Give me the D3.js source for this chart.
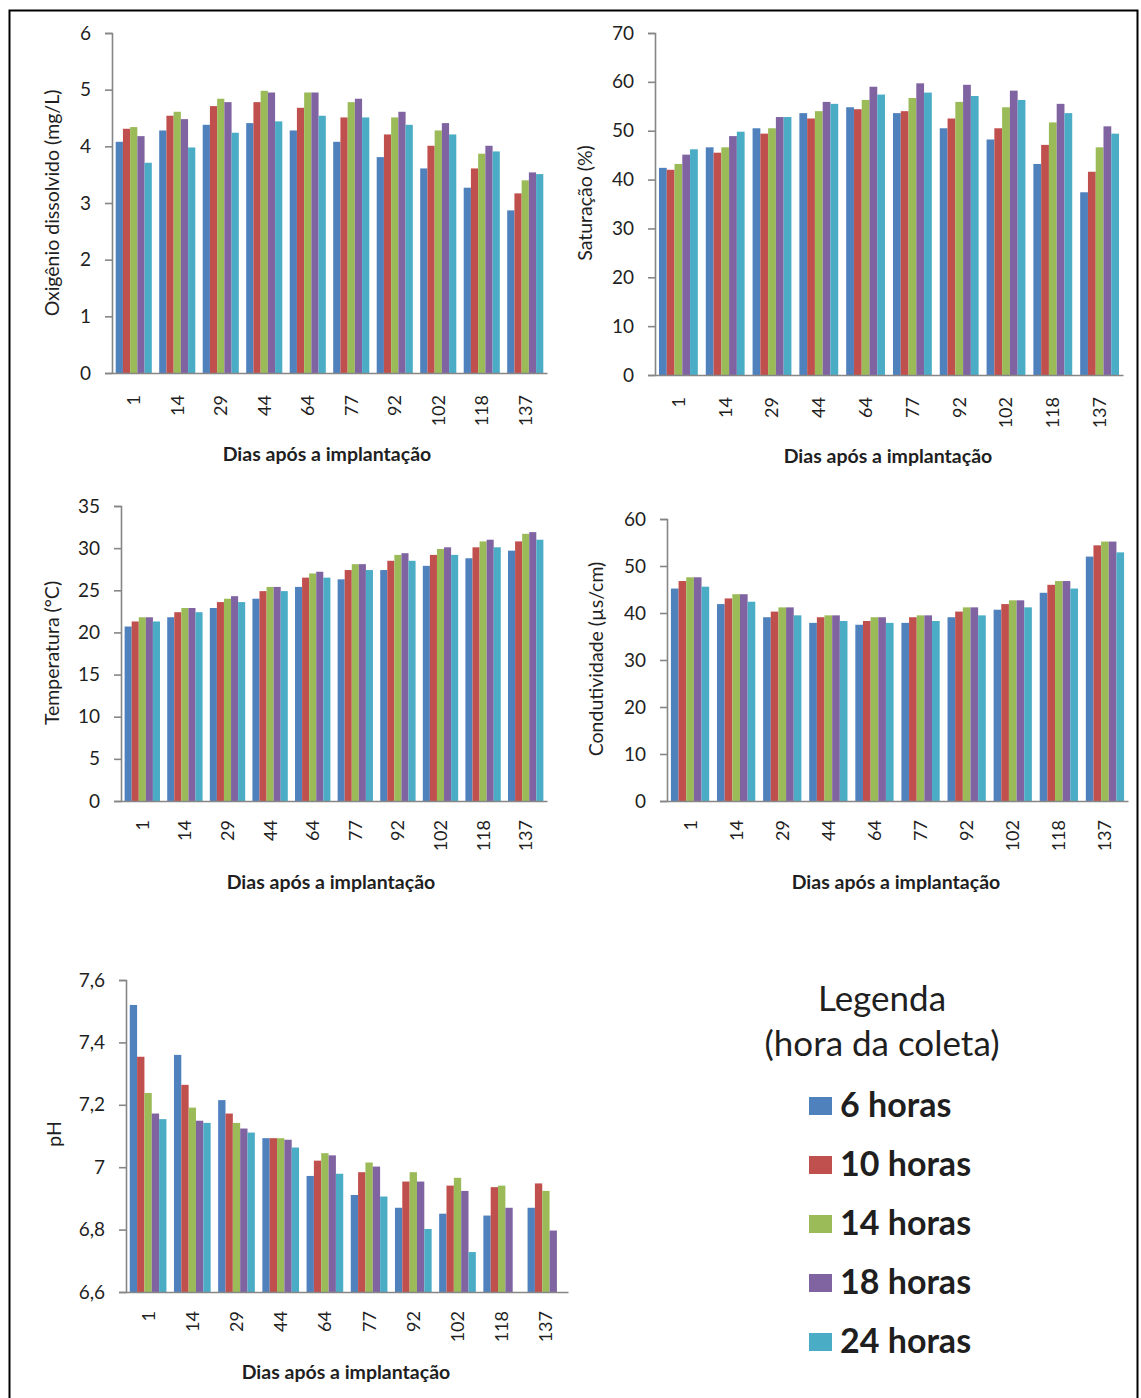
<!DOCTYPE html>
<html>
<head>
<meta charset="utf-8">
<script src="https://cdn.jsdelivr.net/npm/d3@7"></script>
<style>
  html, body { margin: 0; padding: 0; background: #fff; }
  svg { display: block; }
  text { font-family: Lato, "Open Sans", sans-serif; fill: #1f1f1f; }
</style>
</head>
<body>
<svg id="chart" width="1141" height="1398"></svg>
<script>
// ---------- data ----------
const days = ["1", "14", "29", "44", "64", "77", "92", "102", "118", "137"];
const seriesNames = ["6 horas", "10 horas", "14 horas", "18 horas", "24 horas"];
const seriesColors = ["#4F81BD", "#C0504D", "#9BBB59", "#8064A2", "#4BACC6"];

// each row = one series (6h, 10h, 14h, 18h, 24h), columns = days
const oxigenio = [
  [4.08, 4.28, 4.38, 4.41, 4.28, 4.08, 3.81, 3.61, 3.27, 2.87],
  [4.31, 4.54, 4.71, 4.78, 4.68, 4.51, 4.21, 4.01, 3.61, 3.17],
  [4.34, 4.61, 4.84, 4.98, 4.95, 4.78, 4.51, 4.28, 3.87, 3.40],
  [4.18, 4.48, 4.78, 4.95, 4.95, 4.84, 4.61, 4.41, 4.01, 3.54],
  [3.71, 3.98, 4.24, 4.44, 4.54, 4.51, 4.38, 4.21, 3.91, 3.51]
];
const saturacao = [
  [42.4, 46.6, 50.5, 53.6, 54.8, 53.6, 50.5, 48.2, 43.2, 37.4],
  [42.0, 45.5, 49.4, 52.5, 54.4, 54.0, 52.5, 50.5, 47.1, 41.6],
  [43.2, 46.6, 50.5, 54.0, 56.3, 56.7, 55.9, 54.8, 51.7, 46.6],
  [45.1, 48.9, 52.8, 55.9, 59.0, 59.7, 59.4, 58.2, 55.5, 50.9],
  [46.2, 49.8, 52.8, 55.5, 57.4, 57.8, 57.1, 56.3, 53.6, 49.4]
];
const temperatura = [
  [20.7, 21.8, 22.9, 24.0, 25.4, 26.3, 27.4, 27.9, 28.8, 29.7],
  [21.3, 22.4, 23.6, 24.9, 26.5, 27.4, 28.5, 29.2, 30.1, 30.8],
  [21.8, 22.9, 24.0, 25.4, 27.0, 28.1, 29.2, 29.9, 30.8, 31.7],
  [21.8, 22.9, 24.3, 25.4, 27.2, 28.1, 29.4, 30.1, 31.0, 31.9],
  [21.3, 22.4, 23.6, 24.9, 26.5, 27.4, 28.5, 29.2, 30.1, 31.0]
];
const condutividade = [
  [45.2, 41.9, 39.1, 37.9, 37.5, 37.9, 39.1, 40.7, 44.3, 52.0],
  [46.8, 43.1, 40.3, 39.1, 38.3, 39.1, 40.3, 41.9, 46.0, 54.4],
  [47.6, 44.0, 41.2, 39.5, 39.1, 39.5, 41.2, 42.7, 46.8, 55.2],
  [47.6, 44.0, 41.2, 39.5, 39.1, 39.5, 41.2, 42.7, 46.8, 55.2],
  [45.6, 42.4, 39.5, 38.3, 37.9, 38.3, 39.5, 41.2, 45.2, 52.9]
];
const ph = [
  [7.520, 7.360, 7.215, 7.093, 6.972, 6.911, 6.870, 6.851, 6.845, 6.870],
  [7.354, 7.264, 7.172, 7.093, 7.021, 6.984, 6.954, 6.941, 6.936, 6.948],
  [7.238, 7.191, 7.142, 7.093, 7.045, 7.015, 6.984, 6.966, 6.941, 6.924],
  [7.172, 7.149, 7.124, 7.088, 7.038, 7.002, 6.954, 6.924, 6.870, 6.797],
  [7.154, 7.142, 7.111, 7.063, 6.979, 6.906, 6.802, 6.728, null, null]
];

const oxigenioTicks = [0, 1, 2, 3, 4, 5, 6];
const saturacaoTicks = [0, 10, 20, 30, 40, 50, 60, 70];
const temperaturaTicks = [0, 5, 10, 15, 20, 25, 30, 35];
const condutividadeTicks = [0, 10, 20, 30, 40, 50, 60];
const phTicks = [6.6, 6.8, 7.0, 7.2, 7.4, 7.6];

const xTitle = "Dias após a implantação";

// ---------- drawing ----------
const svg = d3.select("#chart");

// outer frame
svg.append("rect")
  .attr("x", 9.5).attr("y", 10.5)
  .attr("width", 1128).attr("height", 1400)
  .attr("fill", "none").attr("stroke", "#000").attr("stroke-width", 2);

const commaFmt = d => String(+d.toFixed(1)).replace(".", ",");

function drawChart(cfg) {
  const g = svg.append("g");
  const x0 = d3.scaleBand().domain(days).range([cfg.left, cfg.right])
    .paddingInner(0.17).paddingOuter(0.085);
  const x1 = d3.scaleBand().domain(d3.range(seriesNames.length))
    .range([0, x0.bandwidth()]);
  const y = d3.scaleLinear().domain(cfg.domain).range([cfg.bottom, cfg.top]);

  // bars
  cfg.data.forEach((row, si) => {
    g.append("g").selectAll("rect")
      .data(row.map((v, i) => ({ day: days[i], v })).filter(d => d.v != null))
      .join("rect")
      .attr("x", d => x0(d.day) + x1(si))
      .attr("width", x1.bandwidth())
      .attr("y", d => y(d.v))
      .attr("height", d => y(cfg.domain[0]) - y(d.v))
      .attr("fill", seriesColors[si]);
  });

  // y axis
  const yAxis = d3.axisLeft(y).tickValues(cfg.ticks).tickSize(7).tickPadding(14)
    .tickFormat(cfg.fmt || (d => String(d)));
  const ya = g.append("g").attr("transform", `translate(${cfg.left},0)`).call(yAxis);
  ya.select(".domain").attr("stroke", "#868686").attr("stroke-width", 1.6);
  ya.selectAll(".tick line").attr("stroke", "#868686").attr("stroke-width", 1.6);
  ya.selectAll(".tick text").attr("font-family", "Lato, sans-serif")
    .attr("font-size", 19).attr("fill", "#1f1f1f");

  // x axis line
  const xa = g.append("g").attr("transform", `translate(0,${cfg.bottom})`)
    .call(d3.axisBottom(x0).tickSize(0).tickFormat(""));
  xa.select(".domain").attr("stroke", "#868686").attr("stroke-width", 1.6);

  // category labels (rotated)
  g.append("g").selectAll("text").data(days).join("text")
    .attr("transform", d => `translate(${x0(d) + x0.bandwidth() / 2},${cfg.labelTop}) rotate(-90)`)
    .attr("text-anchor", "end").attr("dy", "0.36em")
    .attr("font-size", 18)
    .text(d => d);

  // x title
  g.append("text")
    .attr("x", cfg.xTitleX).attr("y", cfg.xTitleY)
    .attr("text-anchor", "middle").attr("font-size", 19.5).attr("font-weight", "bold")
    .text(xTitle);

  // y title
  g.append("text")
    .attr("transform", `translate(${cfg.yTitleX},${cfg.yTitleY}) rotate(-90)`)
    .attr("text-anchor", "middle").attr("font-size", 19.5)
    .text(cfg.yTitle);
}

drawChart({ data: oxigenio, domain: [0, 6], ticks: oxigenioTicks,
  left: 112, right: 547, top: 33, bottom: 373, labelTop: 395,
  xTitleX: 327, xTitleY: 461, yTitle: "Oxigênio dissolvido (mg/L)", yTitleX: 59, yTitleY: 203 });

drawChart({ data: saturacao, domain: [0, 70], ticks: saturacaoTicks,
  left: 655, right: 1123, top: 33, bottom: 375, labelTop: 397,
  xTitleX: 888, xTitleY: 463, yTitle: "Saturação (%)", yTitleX: 592, yTitleY: 203 });

drawChart({ data: temperatura, domain: [0, 35], ticks: temperaturaTicks,
  left: 121, right: 547, top: 506, bottom: 801, labelTop: 820,
  xTitleX: 331, xTitleY: 889, yTitle: "Temperatura (°C)", yTitleX: 59, yTitleY: 653 });

drawChart({ data: condutividade, domain: [0, 60], ticks: condutividadeTicks,
  left: 667, right: 1128, top: 519, bottom: 801, labelTop: 820,
  xTitleX: 896, xTitleY: 889, yTitle: "Condutividade (µs/cm)", yTitleX: 603, yTitleY: 659 });

drawChart({ data: ph, domain: [6.6, 7.6], ticks: phTicks, fmt: commaFmt,
  left: 126, right: 568, top: 980, bottom: 1292, labelTop: 1311,
  xTitleX: 346, xTitleY: 1379, yTitle: "pH", yTitleX: 61, yTitleY: 1134 });

// ---------- legend ----------
const leg = svg.append("g");
leg.append("text").attr("x", 882).attr("y", 1011).attr("text-anchor", "middle")
  .attr("font-size", 35).attr("fill", "#111").text("Legenda");
leg.append("text").attr("x", 882).attr("y", 1056).attr("text-anchor", "middle")
  .attr("font-size", 35).attr("fill", "#111").text("(hora da coleta)");

const legY = d3.scalePoint().domain(seriesNames).range([1106, 1342]);
const items = leg.selectAll("g.item").data(seriesNames).join("g").attr("class", "item")
  .attr("transform", d => `translate(0,${legY(d)})`);
items.append("rect").attr("x", 809).attr("y", -9).attr("width", 23).attr("height", 18)
  .attr("fill", (d, i) => seriesColors[i]);
items.append("text").attr("x", 840).attr("y", 11)
  .attr("font-size", 34).attr("font-weight", "bold").attr("fill", "#222")
  .text(d => d);
</script>
</body>
</html>
